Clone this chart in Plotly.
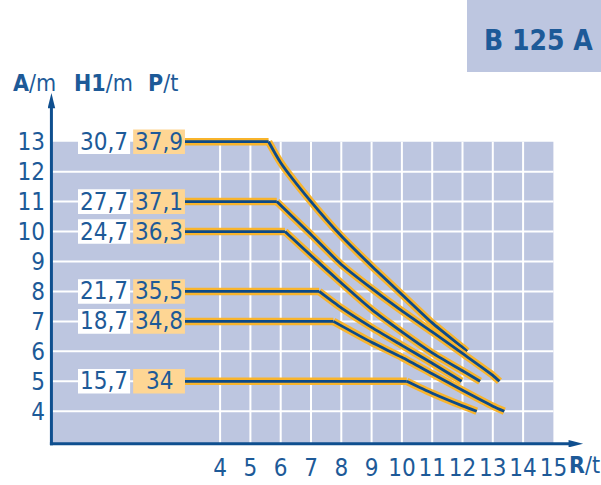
import plotly.graph_objects as go

# ---------------- data ----------------
x_ticks = [4, 5, 6, 7, 8, 9, 10, 11, 12, 13, 14, 15]
y_ticks = [4, 5, 6, 7, 8, 9, 10, 11, 12, 13]

H1_labels = ["30,7", "27,7", "24,7", "21,7", "18,7", "15,7"]
P_labels = ["37,9", "37,1", "36,3", "35,5", "34,8", "34"]
A_levels = [13, 11, 10, 8, 7, 5]

r_379 = [5.6, 6.0, 7.0, 8.0, 9.0, 10.0, 11.0, 12.0, 12.15]
a_379 = [13, 12.3, 11.0, 9.85, 8.85, 7.9, 6.95, 6.13, 6.0]

r_371 = [5.87, 7.0, 8.0, 9.0, 10.0, 11.0, 12.0, 13.0, 13.22]
a_371 = [11, 9.9, 8.9, 8.1, 7.35, 6.65, 5.93, 5.2, 5.0]

r_363 = [6.14, 7.0, 8.0, 9.0, 10.0, 11.0, 12.0, 12.58]
a_363 = [10, 9.2, 8.28, 7.4, 6.65, 5.95, 5.35, 5.0]

r_355 = [7.27, 8.0, 9.0, 10.0, 11.0, 11.97]
a_355 = [8, 7.45, 6.8, 6.2, 5.6, 5.0]

r_348 = [7.74, 9.0, 10.0, 11.0, 12.0, 13.0, 13.38]
a_348 = [7, 6.3, 5.8, 5.25, 4.7, 4.17, 4.0]

r_340 = [10.16, 11.0, 12.0, 12.47]
a_340 = [5, 4.6, 4.18, 4.0]

curves_r = [r_379, r_371, r_363, r_355, r_348, r_340]
curves_a = [a_379, a_371, a_363, a_355, a_348, a_340]

# ---------------- style / layout constants ----------------
W, H = 601, 485
ML, MR, MT, MB = 48, 11, 88, 38
X_RANGE = [-1.680, 16.208]
Y_RANGE = [2.806, 14.793]

FONT = "DejaVu Sans Condensed, Liberation Sans Narrow, sans-serif"
TXT = "#1d5a98"
AXIS = "#0f4f8f"
GRAY = "#bdc6e0"
OR_BOX = "#fed694"
OR_LINE = "#f8b42c"
BL_LINE = "#0c4a88"

AX_X = -1.567      # y-axis position (R)
AX_Y = 2.917       # x-axis position (A)
GRAY_R1 = 15.0
GRAY_A1 = 13.0
LINE_START = 2.84
WBOX = (-0.69, 1.03)
OBOX = (1.13, 2.84)
BOX_H = 0.41
NUM_SIZE = 24

pw = W - ML - MR
ph = H - MT - MB


def px2paper(px):
    return (px - ML) / pw


def py2paper(py):
    return (H - MB - py) / ph


fig = go.Figure()
shapes = []
annots = []

# gray background
shapes.append(dict(type="rect", xref="x", yref="y", x0=AX_X, x1=GRAY_R1, y0=AX_Y, y1=GRAY_A1,
                   fillcolor=GRAY, line=dict(width=0), layer="below"))
# gridlines
for xv in x_ticks[:-1]:
    shapes.append(dict(type="line", xref="x", yref="y", x0=xv, x1=xv, y0=AX_Y, y1=GRAY_A1,
                       line=dict(color="white", width=2), layer="below"))
for yv in y_ticks[:-1]:
    shapes.append(dict(type="line", xref="x", yref="y", x0=AX_X, x1=GRAY_R1, y0=yv, y1=yv,
                       line=dict(color="white", width=2), layer="below"))

# label boxes
for lvl, h1, p in zip(A_levels, H1_labels, P_labels):
    shapes.append(dict(type="rect", xref="x", yref="y", x0=WBOX[0], x1=WBOX[1],
                       y0=lvl - BOX_H, y1=lvl + BOX_H, fillcolor="white", line=dict(width=0)))
    shapes.append(dict(type="rect", xref="x", yref="y", x0=OBOX[0], x1=OBOX[1],
                       y0=lvl - BOX_H, y1=lvl + BOX_H, fillcolor=OR_BOX, line=dict(width=0)))
    annots.append(dict(x=(WBOX[0] + WBOX[1]) / 2, y=lvl, xref="x", yref="y", text=h1,
                       showarrow=False, font=dict(family=FONT, size=NUM_SIZE, color=TXT)))
    annots.append(dict(x=(OBOX[0] + OBOX[1]) / 2, y=lvl, xref="x", yref="y", text=p,
                       showarrow=False, font=dict(family=FONT, size=NUM_SIZE, color=TXT)))

# curves: flat part (straight) + descending part (smooth)
for lvl, rr, aa in zip(A_levels, curves_r, curves_a):
    flat_x = [LINE_START, rr[0]]
    flat_y = [lvl, aa[0]]
    for color, width in [(OR_LINE, 7.5), (BL_LINE, 2.8)]:
        fig.add_trace(go.Scatter(x=flat_x, y=flat_y, mode="lines",
                                 line=dict(color=color, width=width),
                                 hoverinfo="skip", showlegend=False))
        fig.add_trace(go.Scatter(x=rr, y=aa, mode="lines",
                                 line=dict(color=color, width=width, shape="spline", smoothing=0.6),
                                 hoverinfo="skip", showlegend=False))

# axes with arrows
Y_TIP = 14.63
X_TIP = 15.98
shapes.append(dict(type="line", xref="x", yref="y", x0=AX_X, x1=AX_X, y0=AX_Y - 0.05, y1=14.2,
                   line=dict(color=AXIS, width=3)))
shapes.append(dict(type="line", xref="x", yref="y", x0=AX_X - 0.05, x1=15.6, y0=AX_Y, y1=AX_Y,
                   line=dict(color=AXIS, width=3)))
shapes.append(dict(type="path", xref="x", yref="y",
                   path=f"M {AX_X - 0.125} 14.12 L {AX_X} {Y_TIP} L {AX_X + 0.125} 14.12 Z",
                   fillcolor=AXIS, line=dict(width=0)))
shapes.append(dict(type="path", xref="x", yref="y",
                   path=f"M 15.50 {AX_Y + 0.125} L {X_TIP} {AX_Y} L 15.50 {AX_Y - 0.125} Z",
                   fillcolor=AXIS, line=dict(width=0)))

# headers
hfont = dict(family=FONT, size=23, color=TXT)
for txt, px in [("<b>A</b>/m", 11), ("<b>H1</b>/m", 72), ("<b>P</b>/t", 146)]:
    annots.append(dict(x=px2paper(px), y=py2paper(83), xref="paper", yref="paper", text=txt,
                       showarrow=False, xanchor="left", yanchor="middle", font=hfont))
annots.append(dict(x=px2paper(567), y=py2paper(465), xref="paper", yref="paper", text="<b>R</b>/t",
                   showarrow=False, xanchor="left", yanchor="middle", font=hfont))

# title box
shapes.append(dict(type="rect", xref="paper", yref="paper", x0=px2paper(467), x1=px2paper(602),
                   y0=py2paper(72), y1=py2paper(-2), fillcolor=GRAY, line=dict(width=0)))
annots.append(dict(x=px2paper(538), y=py2paper(41), xref="paper", yref="paper", text="<b>B 125 A</b>",
                   showarrow=False, xanchor="center", yanchor="middle",
                   font=dict(family=FONT, size=28, color=TXT)))

fig.update_layout(
    template="none",
    width=W, height=H,
    margin=dict(l=ML, r=MR, t=MT, b=MB, pad=0, autoexpand=False),
    paper_bgcolor="white", plot_bgcolor="white",
    shapes=shapes, annotations=annots,
    showlegend=False,
    xaxis=dict(range=X_RANGE, tickmode="array", tickvals=x_ticks, ticktext=[str(v) for v in x_ticks],
               showgrid=False, zeroline=False, showline=False, ticks="", tickangle=0,
               tickfont=dict(family=FONT, size=NUM_SIZE, color=TXT), fixedrange=True,
               automargin=False, ticklabelstandoff=4),
    yaxis=dict(range=Y_RANGE, tickmode="array", tickvals=y_ticks, ticktext=[str(v) for v in y_ticks],
               showgrid=False, zeroline=False, showline=False, ticks="",
               tickfont=dict(family=FONT, size=NUM_SIZE, color=TXT), fixedrange=True,
               automargin=False, ticklabelstandoff=2),
)

fig.write_html("out.html", config={"displayModeBar": False},
               post_script="document.body.style.margin='0';document.body.style.overflow='hidden';")
